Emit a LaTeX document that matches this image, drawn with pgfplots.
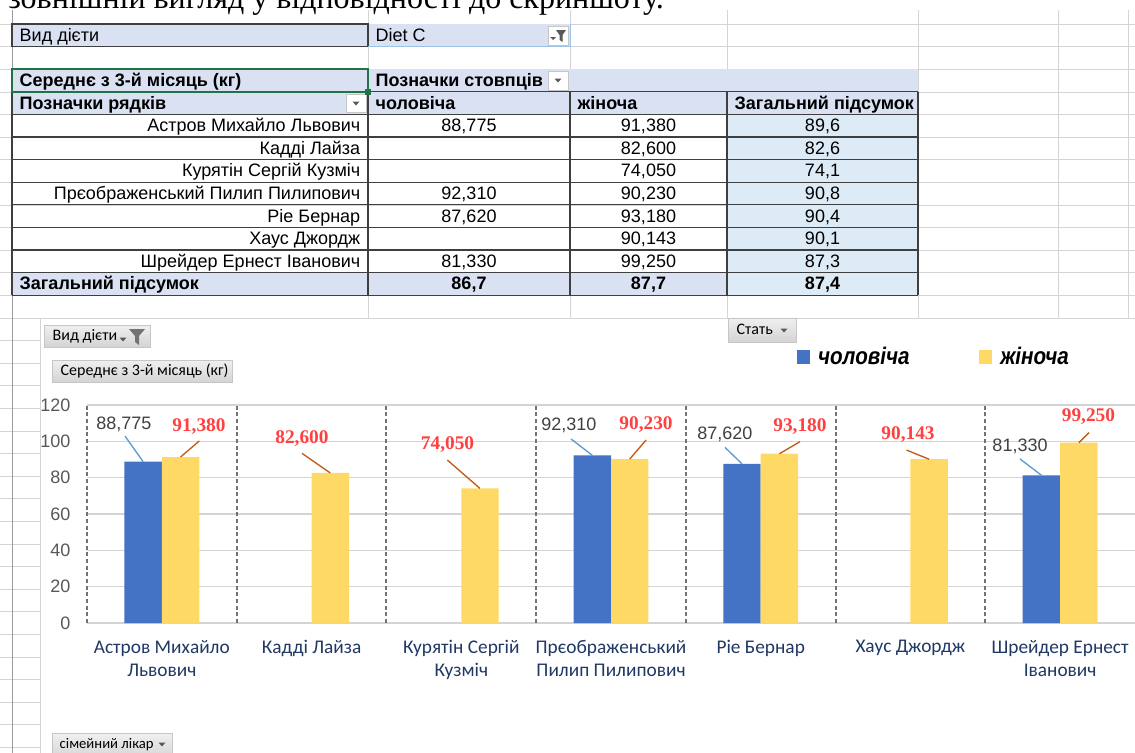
\documentclass[border=0pt]{standalone}
\usepackage{fontspec}
\setmainfont{Liberation Sans}
\newfontfamily\calib{Carlito}
\newfontfamily\tnr{Liberation Serif}
\usepackage{pgfplots}
\pgfplotsset{compat=1.18}

\definecolor{hdr}{HTML}{D9E1F2}
\definecolor{tot}{HTML}{DDEBF7}
\definecolor{grd}{HTML}{D4D4D4}
\definecolor{brd}{HTML}{3F3F3F}
\definecolor{sel}{HTML}{217346}
\definecolor{cblue}{HTML}{4472C4}
\definecolor{cyel}{HTML}{FFD966}
\definecolor{lblred}{HTML}{FF4040}
\definecolor{lblgray}{HTML}{404040}
\definecolor{tickgray}{HTML}{595959}
\definecolor{ldblue}{HTML}{5B9BD5}
\definecolor{ldred}{HTML}{C55A11}
\definecolor{navy}{HTML}{203864}
\definecolor{btnb}{HTML}{C6C6C6}
\definecolor{dashgray}{HTML}{737373}

\newcommand\tf{\fontsize{13.5}{16}\selectfont}
% one body row of the pivot table: baseline, name, male, female, total
\newcommand\trow[5]{%
  \node[anchor=base east] at (365,#1) {#2};
  \node[anchor=base] at (469,#1) {#3};
  \node[anchor=base] at (648.5,#1) {#4};
  \node[anchor=base] at (822.5,#1) {#5};}
\newcommand\dd[2]{\fill[black!65] (#1-3.5,#2-1.5) -- (#1+3.5,#2-1.5) -- (#1,#2+2.5) -- cycle;}
\newcommand\narrow[1]{\scalebox{0.86}[1]{#1}}

\begin{document}
\begin{tikzpicture}[
  blbl/.style={font=\fontsize{13.5}{16}\selectfont,text=lblgray,inner sep=0pt},
  rlbl/.style={font=\tnr\bfseries\fontsize{14.5}{17}\selectfont,text=lblred,inner sep=0pt}]
\path[use as bounding box] (0,0) rectangle (851.25pt,-564.75pt);
\begin{scope}[x=0.75pt,y=-0.75pt,font=\tf]
\fill[white] (0,0) rectangle (1135,753);
% sheet grid
\foreach \y in {24,46.6,...,760} \draw[grd] (0,\y) -- (1135,\y);
\foreach \x in {368,570,727,918,1058,1128} \draw[grd] (\x,10) -- (\x,318);
\draw[black!40] (12,10) -- (12,753);
\node[anchor=base west,inner sep=0,font=\tnr\fontsize{24}{28}\selectfont] at (8,8)
  {зовнішній вигляд у відповідності до скриншоту.};

% filter row
\fill[hdr] (12,24) rectangle (570,46.6);
\draw[brd,line width=1pt] (12,24) rectangle (368,46.6);
\draw[ldblue!60] (368,46.6) -- (570,46.6) -- (570,24);
\node[anchor=base west] at (15,41.3) {Вид дієти};
\node[anchor=base west] at (371,41.3) {Diet C};
\draw[btnb,fill=white] (548,26) rectangle (568,45);
\fill[black!65] (556,30) -- (566,30) -- (562.5,35) -- (562.5,42) -- (559.5,40) -- (559.5,35) -- cycle;
\fill[black!65] (550,37) -- (556,37) -- (553,40) -- cycle;

% header rows
\fill[hdr] (12,69.2) rectangle (918,114.4);
\begin{scope}[font=\tf\bfseries]
\node[anchor=base west] at (15,86.5) {Середнє з 3-й місяць (кг)};
\node[anchor=base west] at (371,86.5) {Позначки стовпців};
\node[anchor=base west] at (15,109.1) {Позначки рядків};
\node[anchor=base west] at (371,109.1) {чоловіча};
\node[anchor=base west] at (573,109.1) {жіноча};
\node[anchor=base west] at (730,109.1) {Загальний підсумок};
\end{scope}
\draw[btnb,fill=white] (548,71) rectangle (568,90); \dd{558}{80}
\draw[btnb,fill=white] (346,94) rectangle (366,112); \dd{356}{103}

% body
\fill[tot] (727,114.4) rectangle (918,295.2);
\fill[hdr] (12,272.6) rectangle (727,295.2);
\foreach \y in {91.8,114.4,...,296} \draw[brd,line width=1pt] (12,\y) -- (918,\y);
\foreach \x in {12,368,570,727,918} \draw[brd,line width=1pt] (\x,91.8) -- (\x,295.2);
\draw[sel,line width=1.6pt] (12,69.2) rectangle (368,91.8);
\fill[sel] (365,88.8) rectangle (371,94.8);
\trow{131.7}{Астров Михайло Львович}{88,775}{91,380}{89,6}
\trow{154.3}{Кадді Лайза}{}{82,600}{82,6}
\trow{176.9}{Курятін Сергій Кузміч}{}{74,050}{74,1}
\trow{199.5}{Прєображенський Пилип Пилипович}{92,310}{90,230}{90,8}
\trow{222.1}{Ріе Бернар}{87,620}{93,180}{90,4}
\trow{244.7}{Хаус Джордж}{}{90,143}{90,1}
\trow{267.3}{Шрейдер Ернест Іванович}{81,330}{99,250}{87,3}
\begin{scope}[font=\tf\bfseries]
\node[anchor=base west] at (15,289.9) {Загальний підсумок};
\node[anchor=base] at (469,289.9) {86,7};
\node[anchor=base] at (648.5,289.9) {87,7};
\node[anchor=base] at (822.5,289.9) {87,4};
\end{scope}

% chart area
\draw[grd,fill=white] (40,318) rectangle (1150,770);
\begin{scope}[font=\calib\fontsize{12}{14}\selectfont]
\shade[top color=black!6,bottom color=black!17,draw=btnb] (44,325) rectangle (150,347);
\node[anchor=base west] at (48,340.5) {Вид дієти};
\dd{123}{339}
\fill[black!55] (129,329) -- (145,329) -- (139,336) -- (139,345) -- (135,342) -- (135,336) -- cycle;
\shade[top color=black!6,bottom color=black!17,draw=btnb] (52,360) rectangle (232,382);
\node[anchor=base west] at (56,375.5) {Середнє з 3-й місяць (кг)};
\shade[top color=black!6,bottom color=black!17,draw=btnb] (728,318) rectangle (796,342);
\node[anchor=base west] at (732,334.5) {Стать};
\dd{784}{330}
\shade[top color=black!6,bottom color=black!17,draw=btnb] (52,733) rectangle (172,760);
\node[anchor=base west,font=\calib\fontsize{11}{13}\selectfont] at (55,748) {сімейний лікар};
\dd{162}{744}
\end{scope}
\coordinate (pa) at (87,623);
\end{scope}

\begin{axis}[
  at={(pa)}, anchor=south west, scale only axis,
  width=786pt, height=163.5pt,
  xmin=-0.5, xmax=6.5, ymin=0, ymax=120,
  ytick={0,20,...,120}, xtick={0,...,6},
  xticklabels={{Астров Михайло\\Львович},{Кадді Лайза},{Курятін Сергій\\Кузміч},
    {Прєображенський\\Пилип Пилипович},{Ріе Бернар},{Хаус Джордж},{Шрейдер Ернест\\Іванович}},
  xticklabel style={align=center,font=\calib\fontsize{14.5}{17.25}\selectfont,text=navy,yshift=-9.5pt},
  yticklabel style={font=\fontsize{13.5}{15}\selectfont,text=tickgray,xshift=-9pt},
  /pgf/number format/assume math mode=true,
  major tick length=0pt,
  axis line style={draw=none},
  ymajorgrids, grid style={draw=grd,line width=0.8pt},
  ybar=0pt, bar width=0.25,
  clip=false,
  legend columns=2,
  legend style={at={(axis description cs:0.677,1.22)},anchor=west,draw=none,fill=none,
    inner sep=0pt,font=\bfseries\itshape\fontsize{18}{20}\selectfont,
    /tikz/every even column/.append style={column sep=50pt}},
  legend cell align=left,
]
\pgfplotsinvokeforeach{-0.5,0.5,1.5,2.5,3.5,4.5,5.5}{
  \draw[dashgray,line width=1.4pt,dash pattern=on 3pt off 2pt] (axis cs:#1,0) -- (axis cs:#1,120);}
\addplot[fill=cblue,draw=none,
  legend image code/.code={\fill[cblue] (0pt,-5pt) rectangle (10pt,5pt); \path (14pt,0pt);}]
  coordinates {(0,88.775) (3,92.31) (4,87.62) (6,81.33)};
\addplot[fill=cyel,draw=none,
  legend image code/.code={\fill[cyel] (0pt,-5pt) rectangle (10pt,5pt); \path (14pt,0pt);}]
  coordinates {(0,91.38) (1,82.6) (2,74.05) (3,90.23) (4,93.18) (5,90.143) (6,99.25)};
\legend{\narrow{чоловіча},\narrow{жіноча}}

% data labels with leader lines
\draw[ldblue,line width=1pt] (axis cs:-0.246,102.9) -- (axis cs:-0.125,88.775);
\node[blbl] at (axis cs:-0.253,109.5) {88,775};
\draw[ldred,line width=1pt] (axis cs:0.250,100.2) -- (axis cs:0.125,91.38);
\node[rlbl] at (axis cs:0.248,108.4) {91,380};
\draw[ldred,line width=1pt] (axis cs:0.936,93.4) -- (axis cs:1.125,82.6);
\node[rlbl] at (axis cs:0.936,101.8) {82,600};
\draw[ldred,line width=1pt] (axis cs:1.907,89.7) -- (axis cs:2.125,74.05);
\node[rlbl] at (axis cs:1.908,98.3) {74,050};
\draw[ldblue,line width=1pt] (axis cs:2.733,101.3) -- (axis cs:2.875,92.31);
\node[blbl] at (axis cs:2.719,108.7) {92,310};
\draw[ldred,line width=1pt] (axis cs:3.234,100.7) -- (axis cs:3.125,90.23);
\node[rlbl] at (axis cs:3.234,109.0) {90,230};
\draw[ldblue,line width=1pt] (axis cs:3.761,96.7) -- (axis cs:3.875,87.62);
\node[blbl] at (axis cs:3.761,104.0) {87,620};
\draw[ldred,line width=1pt] (axis cs:4.262,99.8) -- (axis cs:4.125,93.18);
\node[rlbl] at (axis cs:4.262,108.4) {93,180};
\draw[ldred,line width=1pt] (axis cs:4.974,95.2) -- (axis cs:5.125,90.143);
\node[rlbl] at (axis cs:4.984,103.5) {90,143};
\draw[ldblue,line width=1pt] (axis cs:5.732,90.3) -- (axis cs:5.875,81.33);
\node[blbl] at (axis cs:5.732,97.4) {81,330};
\draw[ldred,line width=1pt] (axis cs:6.193,104.8) -- (axis cs:6.125,99.25);
\node[rlbl] at (axis cs:6.189,113.4) {99,250};
\end{axis}
\end{tikzpicture}
\end{document}
